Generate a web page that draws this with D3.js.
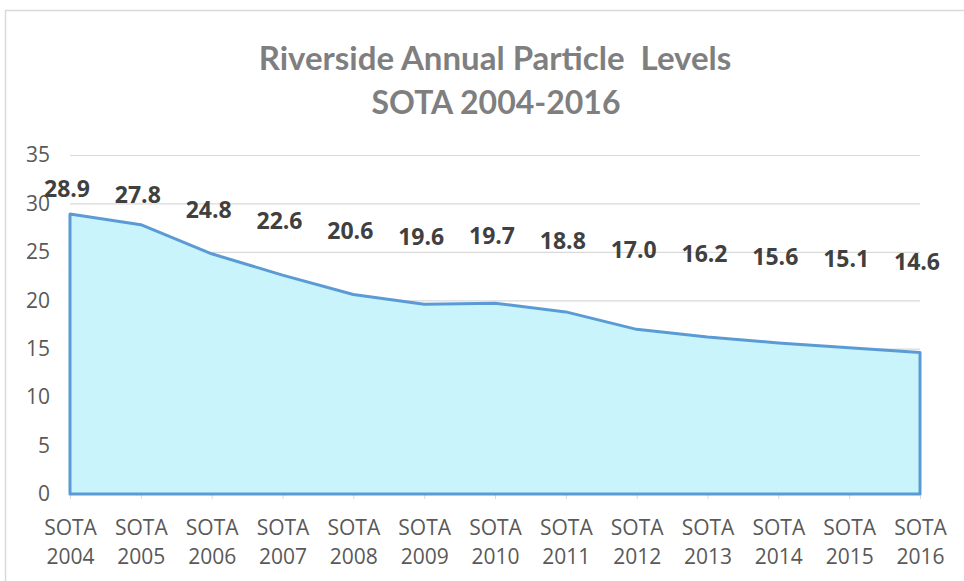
<!DOCTYPE html>
<html>
<head>
<meta charset="utf-8">
<script src="https://cdn.jsdelivr.net/npm/d3@7"></script>
<style>
  body { margin: 0; background: #fff; }
  svg { display: block; }
</style>
</head>
<body>
<div id="chart"></div>
<script>
// data
var years = ['2004', '2005', '2006', '2007', '2008', '2009', '2010',
             '2011', '2012', '2013', '2014', '2015', '2016'];
var levels = [28.9, 27.8, 24.8, 22.6, 20.6, 19.6, 19.7, 18.8, 17.0, 16.2, 15.6, 15.1, 14.6];
var yTicks = [0, 5, 10, 15, 20, 25, 30, 35];

var data = years.map(function(yr, i) { return { year: yr, value: levels[i] }; });

const W = 964, H = 581;
const plot = { left: 70, right: 920, top: 155, bottom: 494 };

var svg = d3.select("#chart").append("svg")
  .attr("width", W)
  .attr("height", H);

// chart border
svg.append("rect")
  .attr("x", 5.5).attr("y", 10.5)
  .attr("width", W + 20).attr("height", H + 20)
  .attr("fill", "none")
  .attr("stroke", "#d9d9d9")
  .attr("stroke-width", 1.5);

var x = d3.scalePoint()
  .domain(years)
  .range([plot.left, plot.right]);

var y = d3.scaleLinear()
  .domain([0, 35])
  .range([plot.bottom, plot.top]);

// gridlines + y labels
var yAxis = svg.append("g")
  .attr("transform", "translate(" + plot.left + ",0)")
  .call(d3.axisLeft(y).tickValues(yTicks).tickSize(-(plot.right - plot.left)).tickPadding(20));
yAxis.select(".domain").remove();
yAxis.selectAll(".tick line").attr("stroke", "#d9d9d9").attr("stroke-width", 1.2);
yAxis.selectAll(".tick text")
  .attr("fill", "#595959")
  .style("font-family", "'Open Sans', sans-serif")
  .style("font-size", "21px");

// x axis
var xAxis = svg.append("g")
  .attr("transform", "translate(0," + plot.bottom + ")")
  .call(d3.axisBottom(x).tickSize(5).tickFormat(""));
xAxis.select(".domain").attr("stroke", "#d9d9d9");
xAxis.selectAll(".tick line").attr("stroke", "#d9d9d9");
xAxis.selectAll(".tick").each(function(d) {
  var t = d3.select(this).append("text")
    .attr("fill", "#595959")
    .attr("text-anchor", "middle")
    .style("font-family", "'Open Sans', sans-serif")
    .style("font-size", "21px");
  t.append("tspan").attr("x", 0).attr("y", 41).text("SOTA");
  t.append("tspan").attr("x", 0).attr("y", 70).text(d);
});

// area
var area = d3.area()
  .x(function(d) { return x(d.year); })
  .y0(y(0))
  .y1(function(d) { return y(d.value); });

svg.append("path")
  .datum(data)
  .attr("d", function(d) { return area(d) + "Z"; })
  .attr("fill", "#caf4fb")
  .attr("stroke", "#5b9bd5")
  .attr("stroke-width", 3)
  .attr("stroke-linejoin", "round");

// data labels (placed in Excel above the line, spread out by value)
var labelY = d3.scaleLinear()
  .domain([14.6, 28.9])
  .range([262, 189]);

svg.append("g").selectAll("text")
  .data(data)
  .enter()
  .append("text")
  .attr("x", function(d) { return x(d.year) - 3; })
  .attr("y", function(d) { return labelY(d.value); })
  .attr("dy", "0.35em")
  .attr("text-anchor", "middle")
  .attr("fill", "#404040")
  .style("font-family", "'Open Sans', sans-serif")
  .style("font-weight", "bold")
  .style("font-size", "23px")
  .text(function(d) { return d.value.toFixed(1); });

// title
svg.append("text")
  .attr("x", 495).attr("y", 70)
  .attr("text-anchor", "middle")
  .attr("fill", "#7f7f7f")
  .style("font-family", "Lato, sans-serif")
  .style("font-weight", "bold")
  .style("font-size", "33px")
  .style("white-space", "pre")
  .text("Riverside Annual Particle  Levels");

svg.append("text")
  .attr("x", 496).attr("y", 114)
  .attr("text-anchor", "middle")
  .attr("fill", "#7f7f7f")
  .style("font-family", "Lato, sans-serif")
  .style("font-weight", "bold")
  .style("font-size", "32px")
  .text("SOTA 2004-2016");
</script>
</body>
</html>
